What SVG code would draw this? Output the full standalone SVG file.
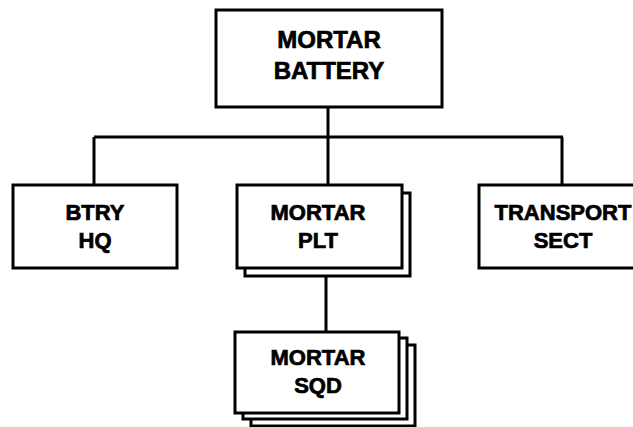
<svg xmlns="http://www.w3.org/2000/svg" width="633" height="427" viewBox="0 0 633 427">
<style>
.box{fill:#fff;stroke:#000;stroke-width:3}
.ln{fill:none;stroke:#000;stroke-width:3}
.t{font-family:"Liberation Sans",Arial,sans-serif;font-weight:bold;font-size:22px;text-anchor:middle;fill:#000;stroke:#000;stroke-width:0.7}
.tt{font-size:24px}
</style>
<rect width="633" height="427" fill="#fff"/>
<g id="connectors">
<path class="ln" d="M328,107 V137 M94,137 H563 M94,137 V185 M328,137 V185 M562,137 V185 M326,276 V332"/>
</g>
<g id="mortar-battery">
<rect class="box" x="216" y="10" width="226" height="97"/>
<text class="t tt" x="329" y="48">MORTAR</text>
<text class="t tt" x="329" y="79">BATTERY</text>
</g>
<g id="btry-hq">
<rect class="box" x="13" y="185" width="164" height="83"/>
<text class="t" x="95" y="220">BTRY</text>
<text class="t" x="95" y="248">HQ</text>
</g>
<g id="mortar-plt">
<rect class="box" x="245" y="193" width="165" height="83"/>
<rect class="box" x="237" y="185" width="165" height="83"/>
<text class="t" x="318" y="220">MORTAR</text>
<text class="t" x="318" y="248">PLT</text>
</g>
<g id="transport-sect">
<rect class="box" x="479" y="185" width="168" height="83"/>
<text class="t" x="563" y="220">TRANSPORT</text>
<text class="t" x="563" y="248">SECT</text>
</g>
<g id="mortar-sqd">
<rect class="box" x="251" y="345" width="164" height="81"/>
<rect class="box" x="243" y="338" width="164" height="81"/>
<rect class="box" x="235" y="332" width="164" height="81"/>
<text class="t" x="318" y="365">MORTAR</text>
<text class="t" x="318" y="393">SQD</text>
</g>
</svg>
